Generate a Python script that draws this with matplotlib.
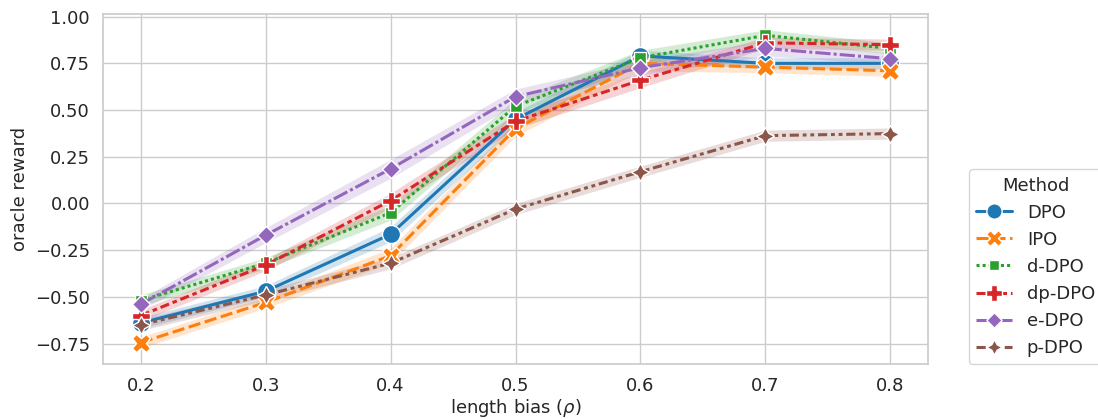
import matplotlib
matplotlib.use("Agg")
import matplotlib.pyplot as plt
import numpy as np
import seaborn as sns

rho = [0.2, 0.3, 0.4, 0.5, 0.6, 0.7, 0.8]

methods = ["DPO", "IPO", "d-DPO", "dp-DPO", "e-DPO", "p-DPO"]

dpo = [-0.64, -0.47, -0.165, 0.45, 0.79, 0.75, 0.75]
ipo = [-0.745, -0.53, -0.28, 0.40, 0.75, 0.73, 0.71]
d_dpo = [-0.52, -0.32, -0.05, 0.52, 0.78, 0.90, 0.83]
dp_dpo = [-0.60, -0.33, 0.015, 0.44, 0.66, 0.86, 0.85]
e_dpo = [-0.54, -0.17, 0.185, 0.572, 0.727, 0.83, 0.775]
p_dpo = [-0.65, -0.49, -0.32, -0.03, 0.17, 0.363, 0.374]

# half-width of the confidence band around each mean
dpo_err = [0.03, 0.03, 0.04, 0.04, 0.03, 0.03, 0.03]
ipo_err = [0.03, 0.03, 0.04, 0.04, 0.04, 0.03, 0.03]
d_dpo_err = [0.03, 0.03, 0.04, 0.04, 0.04, 0.03, 0.03]
dp_dpo_err = [0.03, 0.03, 0.04, 0.04, 0.04, 0.03, 0.03]
e_dpo_err = [0.03, 0.04, 0.05, 0.04, 0.04, 0.04, 0.03]
p_dpo_err = [0.03, 0.03, 0.03, 0.03, 0.03, 0.03, 0.03]

values = [dpo, ipo, d_dpo, dp_dpo, e_dpo, p_dpo]
errors = [dpo_err, ipo_err, d_dpo_err, dp_dpo_err, e_dpo_err, p_dpo_err]

colors = sns.color_palette("tab10", 6)
markers = ["o", "X", (4, 0, 45), "P", (4, 0, 0), (4, 1, 0)]
dashes = [
    "",
    (4, 1.5),
    (1, 1),
    (3, 1.25, 1.5, 1.25),
    (5, 1, 1, 1),
    (3, 1.25, 1.25, 1.25, 1.25, 1.25),
]

sns.set_theme(style="whitegrid")
plt.rcParams["font.family"] = ["DejaVu Sans"]

fig = plt.figure(figsize=(10.98, 4.19), dpi=100)
ax = fig.add_axes([0.094, 0.131, 0.751, 0.836])

for name, y, err, c, m, d in zip(methods, values, errors, colors, markers, dashes):
    y = np.asarray(y)
    err = np.asarray(err)
    ax.fill_between(rho, y - err, y + err, color=c, alpha=0.2, linewidth=0)
    line, = ax.plot(
        rho, y, color=c, marker=m, markersize=13, markeredgecolor="white",
        markeredgewidth=1, linewidth=2.2, label=name,
    )
    if d:
        line.set_dashes(d)

ax.set_xlabel(r"length bias ($\rho$)", fontsize=13, labelpad=1)
ax.set_ylabel("oracle reward", fontsize=13)
ax.tick_params(labelsize=13)
ax.set_yticks([-0.75, -0.5, -0.25, 0.0, 0.25, 0.5, 0.75, 1.0])

leg = ax.legend(title="Method", loc="lower left", bbox_to_anchor=(1.05, 0),
                borderaxespad=0, fontsize=13, title_fontsize=13,
                markerscale=0.85)

fig.savefig("out.png", dpi=100)
